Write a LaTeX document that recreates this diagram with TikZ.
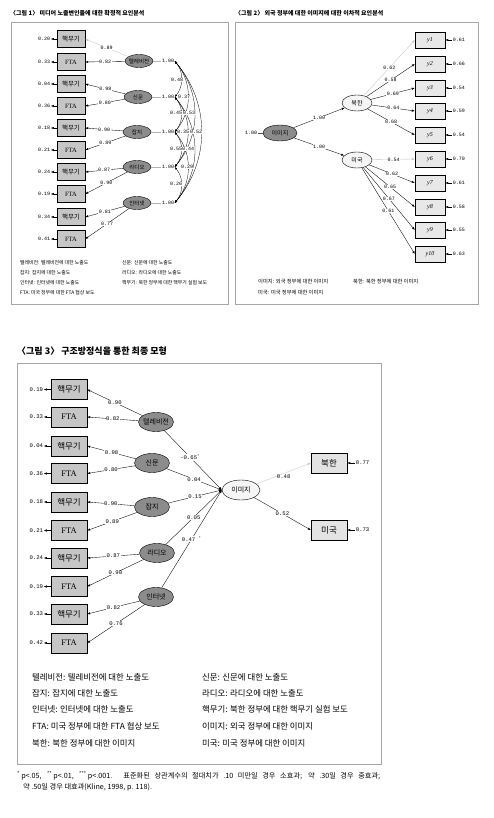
\documentclass[tikz,border=0pt]{standalone}
\usepackage{fontspec}
\setmainfont{Noto Sans CJK KR}
\newfontfamily\numfont{Liberation Mono}
\newfontfamily\serifont{Liberation Serif}
\usepackage{tikz}
\usetikzlibrary{arrows.meta, positioning, shapes.geometric}

\begin{document}
\begin{tikzpicture}[
    x=1pt, y=-1pt,
    ttl/.style={anchor=west, inner sep=0pt, font=\bfseries\fontsize{6}{7}\selectfont},
    ttlbig/.style={ttl, font=\bfseries\fontsize{9}{10}\selectfont},
    frame/.style={draw=gray!70, line width=0.6pt},
    obs/.style={draw, fill=gray!45, minimum width=28pt, minimum height=17pt, inner sep=0pt, font=\fontsize{6.5}{7}\selectfont},
    obsbig/.style={obs, minimum width=36pt, minimum height=20pt, font=\fontsize{8.5}{9}\selectfont},
    dep/.style={obsbig, fill=gray!22},
    ind/.style={draw, fill=gray!18, minimum width=30pt, minimum height=16pt, inner sep=0pt, font=\serifont\itshape\fontsize{6}{7}\selectfont},
    lat/.style={draw, ellipse, fill=black!45, minimum width=28pt, minimum height=13pt, inner xsep=-2pt, inner ysep=0pt, font=\fontsize{5.5}{6}\selectfont},
    latbig/.style={lat, minimum width=35pt, minimum height=19pt, font=\fontsize{7}{8}\selectfont},
    img/.style={lat, fill=gray!8},
    num/.style={inner sep=0.5pt, font=\numfont\fontsize{5}{6}\selectfont},
    numbig/.style={num, font=\numfont\fontsize{5.6}{6}\selectfont},
    lab/.style={num, fill=white},
    labbig/.style={numbig, fill=white},
    arrow/.style={-{Latex[length=3pt, width=2.2pt]}, line width=0.35pt},
    faint/.style={arrow, draw=gray!45},
    corr/.style={{Latex[length=2.6pt, width=2pt]}-{Latex[length=2.6pt, width=2pt]}, line width=0.3pt, bend left=40},
    link/.style={draw=gray!60, line width=0.3pt},
    leg/.style={anchor=west, inner sep=0pt, font=\fontsize{4.9}{5}\selectfont},
    legmid/.style={leg, font=\fontsize{5.3}{6}\selectfont},
    legbig/.style={leg, font=\fontsize{8.4}{9}\selectfont},
    note/.style={leg, font=\fontsize{7.2}{8}\selectfont}
]
    \useasboundingbox (0,0) rectangle (493,818);
    \fill[white] (0,0) rectangle (493,818);

    % figure 1
    \node[ttl] (title1) at (10,13) {〈그림 1〉 미디어 노출변인들에 대한 확정적 요인분석};
    \draw[frame] (11,22) rectangle (228,304);

    \node[obs] (nuc1a) at (71,39) {핵무기};
    \node[obs] (fta1a) at (71,62) {\serifont FTA};
    \node[obs] (nuc2a) at (71,84) {핵무기};
    \node[obs] (fta2a) at (71,106) {\serifont FTA};
    \node[obs] (nuc3a) at (71,128) {핵무기};
    \node[obs] (fta3a) at (71,150) {\serifont FTA};
    \node[obs] (nuc4a) at (71,172) {핵무기};
    \node[obs] (fta4a) at (71,194) {\serifont FTA};
    \node[obs] (nuc5a) at (71,217) {핵무기};
    \node[obs] (fta5a) at (71,239) {\serifont FTA};

    \node[num, left=6pt of nuc1a] (enuc1a) {0.20};
    \node[num, left=6pt of fta1a] (efta1a) {0.33};
    \node[num, left=6pt of nuc2a] (enuc2a) {0.04};
    \node[num, left=6pt of fta2a] (efta2a) {0.36};
    \node[num, left=6pt of nuc3a] (enuc3a) {0.18};
    \node[num, left=6pt of fta3a] (efta3a) {0.21};
    \node[num, left=6pt of nuc4a] (enuc4a) {0.24};
    \node[num, left=6pt of fta4a] (efta4a) {0.19};
    \node[num, left=6pt of nuc5a] (enuc5a) {0.34};
    \node[num, left=6pt of fta5a] (efta5a) {0.41};

    \node[lat] (tva) at (139,61) {텔레비전};
    \node[lat] (npa) at (138,97) {신문};
    \node[lat] (mga) at (137,132) {잡지};
    \node[lat] (rda) at (137,167) {라디오};
    \node[lat] (neta) at (137,203) {인터넷};

    \node[num] (vtva) at (168,61) {1.00};
    \node[num] (vnpa) at (168,97) {1.00};
    \node[num] (vmga) at (168,132) {1.00};
    \node[num] (vrda) at (168,167) {1.00};
    \node[num] (vneta) at (168,203) {1.00};

    \draw[arrow] (nuc1a) -- (enuc1a);
    \draw[arrow] (fta1a) -- (efta1a);
    \draw[arrow] (nuc2a) -- (enuc2a);
    \draw[arrow] (fta2a) -- (efta2a);
    \draw[arrow] (nuc3a) -- (enuc3a);
    \draw[arrow] (fta3a) -- (efta3a);
    \draw[arrow] (nuc4a) -- (enuc4a);
    \draw[arrow] (fta4a) -- (efta4a);
    \draw[arrow] (nuc5a) -- (enuc5a);
    \draw[arrow] (fta5a) -- (efta5a);

    \draw[faint] (tva) -- node[lab] {0.89} (nuc1a.east);
    \draw[arrow] (tva) -- node[lab] {0.82} (fta1a.east);
    \draw[arrow] (npa) -- node[lab] {0.98} (nuc2a.east);
    \draw[arrow] (npa) -- node[lab] {0.80} (fta2a.east);
    \draw[arrow] (mga) -- node[lab] {0.90} (nuc3a.east);
    \draw[arrow] (mga) -- node[lab] {0.89} (fta3a.east);
    \draw[arrow] (rda) -- node[lab] {0.87} (nuc4a.east);
    \draw[arrow] (rda) -- node[lab] {0.90} (fta4a.east);
    \draw[arrow] (neta) -- node[lab] {0.81} (nuc5a.east);
    \draw[arrow] (neta) -- node[lab] {0.77} (fta5a.east);

    \draw[link] (tva) -- (vtva);
    \draw[link] (npa) -- (vnpa);
    \draw[link] (mga) -- (vmga);
    \draw[link] (rda) -- (vrda);
    \draw[link] (neta) -- (vneta);

    \draw[corr] (vtva.east) to (vnpa.east);
    \draw[corr] (vtva.east) to (vmga.east);
    \draw[corr] (vtva.east) to (vrda.east);
    \draw[corr] (vtva.east) to (vneta.east);
    \draw[corr] (vnpa.east) to (vmga.east);
    \draw[corr] (vnpa.east) to (vrda.east);
    \draw[corr] (vnpa.east) to (vneta.east);
    \draw[corr] (vmga.east) to (vrda.east);
    \draw[corr] (vmga.east) to (vneta.east);
    \draw[corr] (vrda.east) to (vneta.east);

    \node[lab, inner sep=0.3pt] (r12) at (177,80) {0.48};
    \node[lab, inner sep=0.3pt] (r13) at (184,97) {0.37};
    \node[lab, inner sep=0.3pt] (r23) at (176,113) {0.45};
    \node[lab, inner sep=0.3pt] (r14) at (189,113) {0.53};
    \node[lab, inner sep=0.3pt] (r24) at (183,132) {0.35};
    \node[lab, inner sep=0.3pt] (r15) at (196,132) {0.52};
    \node[lab, inner sep=0.3pt] (r34) at (176,149) {0.55};
    \node[lab, inner sep=0.3pt] (r25) at (188,149) {0.44};
    \node[lab, inner sep=0.3pt] (r35) at (187,167) {0.29};
    \node[lab, inner sep=0.3pt] (r45) at (176,184) {0.26};

    \node[leg] (leg1a) at (20,263) {텔레비전: 텔레비전에 대한 노출도};
    \node[leg] (leg2a) at (20,273) {잡지: 잡지에 대한 노출도};
    \node[leg] (leg3a) at (20,283) {인터넷: 인터넷에 대한 노출도};
    \node[leg] (leg4a) at (20,293) {FTA: 미국 정부에 대한 FTA 협상 보도};
    \node[leg] (leg5a) at (122,263) {신문: 신문에 대한 노출도};
    \node[leg] (leg6a) at (122,273) {라디오: 라디오에 대한 노출도};
    \node[leg] (leg7a) at (122,283) {핵무기: 북한 정부에 대한 핵무기 실험 보도};

    % figure 2
    \node[ttl] (title2) at (235,13) {〈그림 2〉 외국 정부에 대한 이미지에 대한 이차적 요인분석};
    \draw[frame] (235,22) rectangle (478,304);

    \node[ind] (y1) at (430,40) {y1};
    \node[ind] (y2) at (430,64) {y2};
    \node[ind] (y3) at (430,88) {y3};
    \node[ind] (y4) at (430,111) {y4};
    \node[ind] (y5) at (430,135) {y5};
    \node[ind] (y6) at (430,159) {y6};
    \node[ind] (y7) at (430,183) {y7};
    \node[ind] (y8) at (430,207) {y8};
    \node[ind] (y9) at (430,230) {y9};
    \node[ind] (y10) at (430,254) {y10};

    \node[num, right=7pt of y1] (ey1) {0.61};
    \node[num, right=7pt of y2] (ey2) {0.66};
    \node[num, right=7pt of y3] (ey3) {0.54};
    \node[num, right=7pt of y4] (ey4) {0.59};
    \node[num, right=7pt of y5] (ey5) {0.54};
    \node[num, right=7pt of y6] (ey6) {0.70};
    \node[num, right=7pt of y7] (ey7) {0.61};
    \node[num, right=7pt of y8] (ey8) {0.58};
    \node[num, right=7pt of y9] (ey9) {0.55};
    \node[num, right=7pt of y10] (ey10) {0.63};

    \node[lat, minimum width=34pt, minimum height=16pt, font=\fontsize{6}{7}\selectfont] (imgb) at (280,133) {이미지};
    \node[img, minimum width=30pt, minimum height=16pt, font=\fontsize{6}{7}\selectfont] (nkb) at (357,103) {북한};
    \node[img, minimum width=30pt, minimum height=16pt, font=\fontsize{6}{7}\selectfont] (usb) at (357,160) {미국};
    \node[num, left=5pt of imgb] (vimgb) {1.00};

    \draw[link, draw=black!70] (vimgb) -- (imgb);
    \draw[arrow] (imgb) -- node[lab] {1.00} (nkb);
    \draw[arrow] (imgb) -- node[lab] {1.00} (usb);

    \draw[faint] (nkb) -- node[lab] {0.62} (y1.west);
    \draw[arrow] (nkb) -- node[lab] {0.58} (y2.west);
    \draw[arrow] (nkb) -- node[lab] {0.69} (y3.west);
    \draw[arrow] (nkb) -- node[lab] {0.64} (y4.west);
    \draw[arrow] (nkb) -- node[lab] {0.68} (y5.west);
    \draw[faint] (usb) -- node[lab] {0.54} (y6.west);
    \draw[arrow] (usb) -- node[lab] {0.62} (y7.west);
    \draw[arrow] (usb) -- node[lab] {0.65} (y8.west);
    \draw[arrow] (usb) -- node[lab] {0.67} (y9.west);
    \draw[arrow] (usb) -- node[lab] {0.61} (y10.west);

    \draw[arrow] (ey1) -- (y1);
    \draw[arrow] (ey2) -- (y2);
    \draw[arrow] (ey3) -- (y3);
    \draw[arrow] (ey4) -- (y4);
    \draw[arrow] (ey5) -- (y5);
    \draw[arrow] (ey6) -- (y6);
    \draw[arrow] (ey7) -- (y7);
    \draw[arrow] (ey8) -- (y8);
    \draw[arrow] (ey9) -- (y9);
    \draw[arrow] (ey10) -- (y10);

    \node[legmid] (leg1b) at (258,282) {이미지: 외국 정부에 대한 이미지};
    \node[legmid] (leg2b) at (353,282) {북한: 북한 정부에 대한 이미지};
    \node[legmid] (leg3b) at (258,293) {미국: 미국 정부에 대한 이미지};

    % figure 3
    \node[ttlbig] (title3) at (17,351) {〈그림 3〉 구조방정식을 통한 최종 모형};
    \draw[frame] (17,363) rectangle (381,764);

    \node[obsbig] (nuc1c) at (69,389.5) {핵무기};
    \node[obsbig] (fta1c) at (69,417) {\serifont FTA};
    \node[obsbig] (nuc2c) at (69,446) {핵무기};
    \node[obsbig] (fta2c) at (69,473.5) {\serifont FTA};
    \node[obsbig] (nuc3c) at (69,502) {핵무기};
    \node[obsbig] (fta3c) at (69,530.5) {\serifont FTA};
    \node[obsbig] (nuc4c) at (69,558) {핵무기};
    \node[obsbig] (fta4c) at (69,586.5) {\serifont FTA};
    \node[obsbig] (nuc5c) at (69,614) {핵무기};
    \node[obsbig] (fta5c) at (69,643) {\serifont FTA};

    \node[numbig, left=7pt of nuc1c] (enuc1c) {0.19};
    \node[numbig, left=7pt of fta1c] (efta1c) {0.33};
    \node[numbig, left=7pt of nuc2c] (enuc2c) {0.04};
    \node[numbig, left=7pt of fta2c] (efta2c) {0.36};
    \node[numbig, left=7pt of nuc3c] (enuc3c) {0.18};
    \node[numbig, left=7pt of fta3c] (efta3c) {0.21};
    \node[numbig, left=7pt of nuc4c] (enuc4c) {0.24};
    \node[numbig, left=7pt of fta4c] (efta4c) {0.19};
    \node[numbig, left=7pt of nuc5c] (enuc5c) {0.33};
    \node[numbig, left=7pt of fta5c] (efta5c) {0.42};

    \node[latbig] (tvc) at (156,422) {텔레비전};
    \node[latbig] (npc) at (152,463) {신문};
    \node[latbig] (mgc) at (152,507) {잡지};
    \node[latbig] (rdc) at (157,553) {라디오};
    \node[latbig] (netc) at (156,597) {인터넷};

    \node[img, minimum width=38pt, minimum height=20pt, font=\fontsize{7}{8}\selectfont] (imgc) at (241,490) {이미지};
    \node[dep] (nkc) at (329,463) {북한};
    \node[dep] (usc) at (329,530) {미국};
    \node[numbig, right=8pt of nkc] (enkc) {0.77};
    \node[numbig, right=8pt of usc] (eusc) {0.73};

    \draw[arrow] (nuc1c) -- (enuc1c);
    \draw[arrow] (fta1c) -- (efta1c);
    \draw[arrow] (nuc2c) -- (enuc2c);
    \draw[arrow] (fta2c) -- (efta2c);
    \draw[arrow] (nuc3c) -- (enuc3c);
    \draw[arrow] (fta3c) -- (efta3c);
    \draw[arrow] (nuc4c) -- (enuc4c);
    \draw[arrow] (fta4c) -- (efta4c);
    \draw[arrow] (nuc5c) -- (enuc5c);
    \draw[arrow] (fta5c) -- (efta5c);

    \draw[arrow] (tvc) -- node[labbig] {0.90} (nuc1c.east);
    \draw[arrow] (tvc) -- node[labbig] {0.82} (fta1c.east);
    \draw[arrow] (npc) -- node[labbig] {0.98} (nuc2c.east);
    \draw[arrow] (npc) -- node[labbig] {0.80} (fta2c.east);
    \draw[arrow] (mgc) -- node[labbig] {0.90} (nuc3c.east);
    \draw[arrow] (mgc) -- node[labbig] {0.89} (fta3c.east);
    \draw[arrow] (rdc) -- node[labbig] {0.87} (nuc4c.east);
    \draw[arrow] (rdc) -- node[labbig] {0.90} (fta4c.east);
    \draw[arrow] (netc) -- node[labbig] {0.82} (nuc5c.east);
    \draw[arrow] (netc) -- node[labbig] {0.76} (fta5c.east);

    \draw[arrow] (tvc) -- node[labbig, pos=0.45] {-0.65\textsuperscript{*}} (imgc.west);
    \draw[arrow] (npc) -- node[labbig] {0.04} (imgc.west);
    \draw[arrow] (mgc) -- node[labbig] {0.15} (imgc.west);
    \draw[arrow] (rdc) -- node[labbig] {0.05} (imgc.west);
    \draw[arrow] (netc) -- node[labbig] {0.47 \textsuperscript{*}} (imgc.west);

    \draw[faint] (imgc) -- node[numbig, below=1pt] {0.48} (nkc.west);
    \draw[arrow] (imgc) -- node[labbig] {0.52} (usc.west);
    \draw[arrow] (enkc) -- (nkc);
    \draw[arrow] (eusc) -- (usc);

    \node[legbig] (leg1c) at (32,677) {텔레비전: 텔레비전에 대한 노출도};
    \node[legbig] (leg2c) at (32,693) {잡지: 잡지에 대한 노출도};
    \node[legbig] (leg3c) at (32,709) {인터넷: 인터넷에 대한 노출도};
    \node[legbig] (leg4c) at (32,726) {FTA: 미국 정부에 대한 FTA 협상 보도};
    \node[legbig] (leg5c) at (32,743) {북한: 북한 정부에 대한 이미지};
    \node[legbig] (leg6c) at (202,677) {신문: 신문에 대한 노출도};
    \node[legbig] (leg7c) at (202,693) {라디오: 라디오에 대한 노출도};
    \node[legbig] (leg8c) at (202,709) {핵무기: 북한 정부에 대한 핵무기 실험 보도};
    \node[legbig] (leg9c) at (202,726) {이미지: 외국 정부에 대한 이미지};
    \node[legbig] (leg10c) at (202,743) {미국: 미국 정부에 대한 이미지};

    \node[note] (note1) at (17,776) {\makebox[363pt][s]{\textsuperscript{*}\,p<.05, \textsuperscript{**}\,p<.01, \textsuperscript{***}\,p<.001. 표준화된 상관계수의 절대치가 .10 미만일 경우 소효과; 약 .30일 경우 중효과;}};
    \node[note] (note2) at (23,787) {약 .50일 경우 대효과(Kline, 1998, p. 118).};
\end{tikzpicture}
\end{document}
